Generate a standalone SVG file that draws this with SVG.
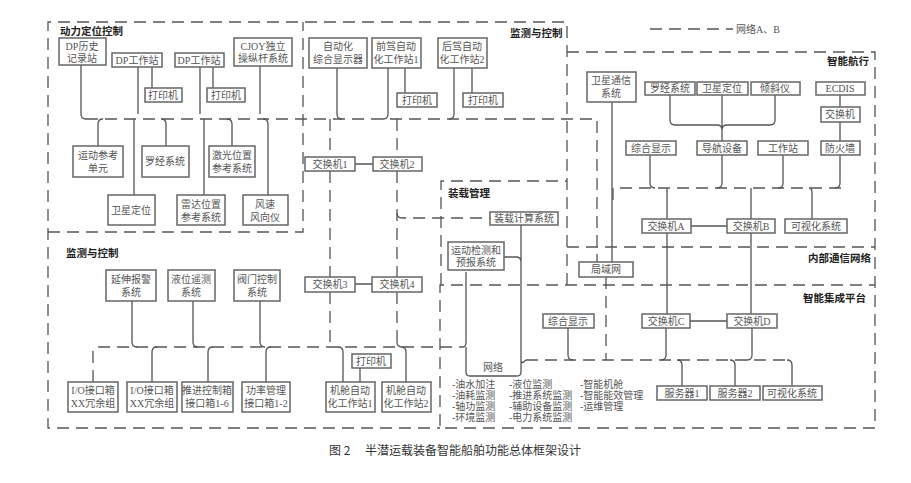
<svg xmlns="http://www.w3.org/2000/svg" width="911" height="483" viewBox="0 0 911 483">
<style>
.b{fill:#fff;stroke:#666;stroke-width:1.5}
.t{font-family:"Liberation Serif","Noto Sans CJK SC",serif;font-size:10px;fill:#555;text-anchor:middle}
.h{font-family:"Noto Sans CJK SC",sans-serif;font-size:10.5px;font-weight:bold;fill:#222}
.l{font-family:"Liberation Serif","Noto Sans CJK SC",serif;font-size:10px;fill:#555}
.f{fill:none;stroke:#555;stroke-width:1.3;stroke-dasharray:12 7}
.s{fill:none;stroke:#555;stroke-width:1.3}
.d{fill:none;stroke:#555;stroke-width:1.3;stroke-dasharray:12 7}
</style>
<rect width="911" height="483" fill="#fff"/>
<g id="frames">
<path class="f" d="M567 285V22H48V428H440"/>
<path class="f" d="M48 232H303V22"/>
<path class="f" d="M567 52H875V428H440V285H875M567 247H875"/>
<path class="f" d="M441 285V181H567"/>
<text class="h" x="60" y="35">动力定位控制</text>
<text class="h" x="510" y="37">监测与控制</text>
<text class="h" x="66" y="257">监测与控制</text>
<text class="h" x="448" y="197">装载管理</text>
<text class="h" x="827" y="65">智能航行</text>
<text class="h" x="808" y="262">内部通信网络</text>
<text class="h" x="803" y="302">智能集成平台</text>
<path class="d" d="M650 29H733"/>
<text class="l" x="736" y="33">网络A、B</text>
</g>
<g id="connectors">
<path class="d" d="M86 119H597V262"/>
<path class="s" d="M81 65V114q0 5 5 5M98 146V124q0-5 5-5M138 67V114M152 67V88M134 195V119M166 146V124q0-5-5-5M200 67V114M213 67V88M204 195V119M232 146V124q0-5-5-5M260 66V114M268 195V124q0-5-5-5"/>
<path class="s" d="M337 68V114q0 5 5 5M388 68V114q0 5-5 5M405 68V93M454 68V114q0 5-5 5M472 68V93"/>
<path class="d" d="M330 119V157M397 119V157M330 171V277M397 171V277M330 292V347M397 292V347"/>
<path class="s" d="M355 164H373M355 284H372"/>
<path class="d" d="M397 213q0 5 5 5H490"/>
<path class="d" d="M93 382V352q0-5 5-5H463"/>
<path class="s" d="M132 301V342q0 5 5 5M193 301V342q0 5 5 5M260 301V342q0 5 5 5M152 382V352q0-5 5-5M208 382V352q0-5 5-5M266 382V352q0-5 5-5M343 382V352q0-5-5-5M360 368V382M397 342q0 5 5 5M406 382V352q0-5-5-5"/>
<path class="s" d="M463 347q3 0 3-5V272M466 347V372q0 4 4 4H517q4 0 4-4V262q0-5-5-5H504M521 225V360q0 5 5 0"/>
<text class="t" x="493" y="371">网络</text>
<path class="s" d="M612 102V262"/>
<path class="s" d="M670 95V120q0 5 5 5H717q5 0 5 5M775 95V120q0 5-5 5H727q-5 0-5 5M722 95V141"/>
<path class="s" d="M840 95V107M840 122V141M840 155V183q0 5-5 5"/>
<path class="d" d="M613 200V188H847"/>
<path class="s" d="M650 155V183q0 5 5 5M722 155V183q0 5-5 5M783 155V183q0 5-5 5M809 188q3 0 3 5V219M667 188V219M751 188V219M667 233V314M751 233V314M691 226H727"/>
<path class="d" d="M606 277V360"/>
<path class="d" d="M526 360H792"/>
<path class="s" d="M568 328V355q0 5 5 5M666 328V355q0 5-5 5M752 328V355q0 5-5 5M682 386V365q0-5-5-5M735 386V365q0-5-5-5M792 386V365q0-5-5-5M690 321H727"/>
</g>
<g id="nodes">
<g id="n1"><rect class="b" x="59" y="38" width="47" height="27"/><text class="t" x="82" y="50">DP历史</text><text class="t" x="82" y="62">记录站</text></g>
<g id="n2"><rect class="b" x="112" y="53" width="50" height="14"/><text class="t" x="137" y="64">DP工作站</text></g>
<g id="n3"><rect class="b" x="145" y="88" width="37" height="14"/><text class="t" x="163" y="99">打印机</text></g>
<g id="n4"><rect class="b" x="175" y="53" width="49" height="14"/><text class="t" x="199" y="64">DP工作站</text></g>
<g id="n5"><rect class="b" x="207" y="88" width="38" height="14"/><text class="t" x="226" y="99">打印机</text></g>
<g id="n6"><rect class="b" x="234" y="38" width="58" height="28"/><text class="t" x="263" y="50">CJOY独立</text><text class="t" x="263" y="62">操纵杆系统</text></g>
<g id="n7"><rect class="b" x="73" y="146" width="50" height="31"/><text class="t" x="98" y="159">运动参考</text><text class="t" x="98" y="172">单元</text></g>
<g id="n8"><rect class="b" x="142" y="146" width="47" height="31"/><text class="t" x="165" y="165">罗经系统</text></g>
<g id="n9"><rect class="b" x="209" y="146" width="46" height="31"/><text class="t" x="232" y="159">激光位置</text><text class="t" x="232" y="172">参考系统</text></g>
<g id="n10"><rect class="b" x="108" y="195" width="47" height="30"/><text class="t" x="131" y="214">卫星定位</text></g>
<g id="n11"><rect class="b" x="177" y="195" width="48" height="30"/><text class="t" x="201" y="208">雷达位置</text><text class="t" x="201" y="221">参考系统</text></g>
<g id="n12"><rect class="b" x="243" y="195" width="45" height="30"/><text class="t" x="265" y="208">风速</text><text class="t" x="265" y="221">风向仪</text></g>
<g id="n13"><rect class="b" x="309" y="38" width="58" height="30"/><text class="t" x="338" y="50">自动化</text><text class="t" x="338" y="63">综合显示器</text></g>
<g id="n14"><rect class="b" x="372" y="38" width="49" height="30"/><text class="t" x="396" y="50">前驾自动</text><text class="t" x="396" y="63">化工作站1</text></g>
<g id="n15"><rect class="b" x="438" y="38" width="49" height="30"/><text class="t" x="462" y="50">后驾自动</text><text class="t" x="462" y="63">化工作站2</text></g>
<g id="n16"><rect class="b" x="397" y="93" width="40" height="14"/><text class="t" x="417" y="104">打印机</text></g>
<g id="n17"><rect class="b" x="463" y="93" width="40" height="14"/><text class="t" x="483" y="104">打印机</text></g>
<g id="n18"><rect class="b" x="305" y="157" width="50" height="14"/><text class="t" x="330" y="168">交换机1</text></g>
<g id="n19"><rect class="b" x="373" y="157" width="49" height="14"/><text class="t" x="397" y="168">交换机2</text></g>
<g id="n20"><rect class="b" x="490" y="212" width="68" height="13"/><text class="t" x="524" y="222">装载计算系统</text></g>
<g id="n21"><rect class="b" x="448" y="242" width="56" height="28"/><text class="t" x="476" y="254">运动检测和</text><text class="t" x="476" y="266">预报系统</text></g>
<g id="n22"><rect class="b" x="587" y="72" width="49" height="30"/><text class="t" x="611" y="84">卫星通信</text><text class="t" x="611" y="97">系统</text></g>
<g id="n23"><rect class="b" x="645" y="82" width="50" height="13"/><text class="t" x="670" y="92">罗经系统</text></g>
<g id="n24"><rect class="b" x="697" y="82" width="51" height="13"/><text class="t" x="722" y="92">卫星定位</text></g>
<g id="n25"><rect class="b" x="751" y="82" width="49" height="13"/><text class="t" x="775" y="92">倾斜仪</text></g>
<g id="n26"><rect class="b" x="816" y="82" width="49" height="13"/><text class="t" x="840" y="92">ECDIS</text></g>
<g id="n27"><rect class="b" x="821" y="107" width="39" height="15"/><text class="t" x="840" y="118">交换机</text></g>
<g id="n28"><rect class="b" x="821" y="141" width="39" height="14"/><text class="t" x="840" y="152">防火墙</text></g>
<g id="n29"><rect class="b" x="626" y="141" width="50" height="14"/><text class="t" x="651" y="152">综合显示</text></g>
<g id="n30"><rect class="b" x="697" y="141" width="50" height="14"/><text class="t" x="722" y="152">导航设备</text></g>
<g id="n31"><rect class="b" x="758" y="141" width="50" height="14"/><text class="t" x="783" y="152">工作站</text></g>
<g id="n32"><rect class="b" x="642" y="219" width="49" height="14"/><text class="t" x="666" y="230">交换机A</text></g>
<g id="n33"><rect class="b" x="727" y="219" width="48" height="14"/><text class="t" x="751" y="230">交换机B</text></g>
<g id="n34"><rect class="b" x="785" y="219" width="62" height="14"/><text class="t" x="816" y="230">可视化系统</text></g>
<g id="n35"><rect class="b" x="579" y="262" width="54" height="15"/><text class="t" x="606" y="273">局域网</text></g>
<g id="n36"><rect class="b" x="543" y="314" width="51" height="14"/><text class="t" x="568" y="325">综合显示</text></g>
<g id="n37"><rect class="b" x="642" y="314" width="48" height="14"/><text class="t" x="666" y="325">交换机C</text></g>
<g id="n38"><rect class="b" x="727" y="314" width="50" height="14"/><text class="t" x="752" y="325">交换机D</text></g>
<g id="n39"><rect class="b" x="657" y="386" width="50" height="14"/><text class="t" x="682" y="397">服务器1</text></g>
<g id="n40"><rect class="b" x="710" y="386" width="50" height="14"/><text class="t" x="735" y="397">服务器2</text></g>
<g id="n41"><rect class="b" x="763" y="386" width="59" height="14"/><text class="t" x="792" y="397">可视化系统</text></g>
<g id="n42"><rect class="b" x="106" y="270" width="50" height="31"/><text class="t" x="131" y="283">延伸报警</text><text class="t" x="131" y="296">系统</text></g>
<g id="n43"><rect class="b" x="168" y="270" width="47" height="31"/><text class="t" x="191" y="283">液位遥测</text><text class="t" x="191" y="296">系统</text></g>
<g id="n44"><rect class="b" x="234" y="270" width="46" height="31"/><text class="t" x="257" y="283">阀门控制</text><text class="t" x="257" y="296">系统</text></g>
<g id="n45"><rect class="b" x="305" y="277" width="50" height="15"/><text class="t" x="330" y="288">交换机3</text></g>
<g id="n46"><rect class="b" x="372" y="277" width="50" height="15"/><text class="t" x="397" y="288">交换机4</text></g>
<g id="n47"><rect class="b" x="352" y="354" width="39" height="14"/><text class="t" x="371" y="365">打印机</text></g>
<g id="n48"><rect class="b" x="68" y="382" width="50" height="30"/><text class="t" x="93" y="394">I/O接口箱</text><text class="t" x="93" y="407">XX冗余组</text></g>
<g id="n49"><rect class="b" x="127" y="382" width="50" height="30"/><text class="t" x="152" y="394">I/O接口箱</text><text class="t" x="152" y="407">XX冗余组</text></g>
<g id="n50"><rect class="b" x="182" y="382" width="51" height="30"/><text class="t" x="207" y="394">推进控制箱</text><text class="t" x="207" y="407">接口箱1-6</text></g>
<g id="n51"><rect class="b" x="242" y="382" width="48" height="30"/><text class="t" x="266" y="394">功率管理</text><text class="t" x="266" y="407">接口箱1-2</text></g>
<g id="n52"><rect class="b" x="326" y="382" width="49" height="30"/><text class="t" x="350" y="394">机舱自动</text><text class="t" x="350" y="407">化工作站1</text></g>
<g id="n53"><rect class="b" x="382" y="382" width="49" height="30"/><text class="t" x="406" y="394">机舱自动</text><text class="t" x="406" y="407">化工作站2</text></g>
</g>
<g id="lists" class="l">
<text x="452" y="388">-油水加注</text><text x="452" y="399">-油耗监测</text><text x="452" y="410">-轴功监测</text><text x="452" y="421">-环境监测</text>
<text x="509" y="388">-液位监测</text><text x="509" y="399">-推进系统监测</text><text x="509" y="410">-辅助设备监测</text><text x="509" y="421">-电力系统监测</text>
<text x="580" y="388">-智能机舱</text><text x="580" y="399">-智能能效管理</text><text x="580" y="410">-运维管理</text>
</g>
<text x="455" y="455" style="font-family:'Noto Sans CJK SC',sans-serif;font-size:12px;fill:#333;text-anchor:middle">图 2　 半潜运载装备智能船舶功能总体框架设计</text>
</svg>
